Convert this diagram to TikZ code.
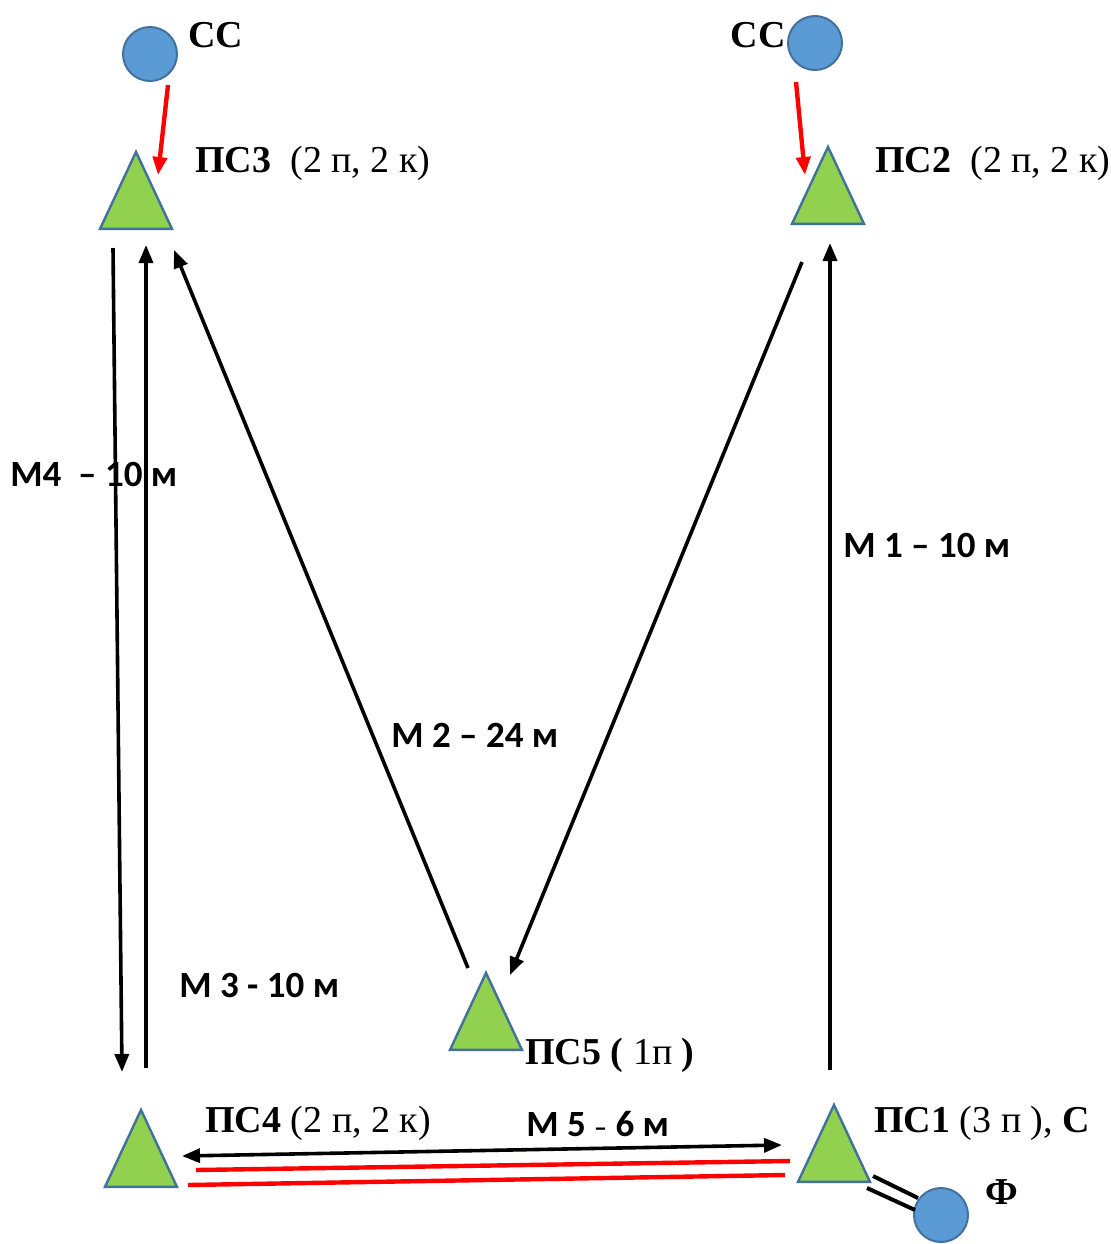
\documentclass[tikz,border=0pt]{standalone}
\usepackage{fontspec}
\setmainfont{Liberation Serif}
\newfontfamily\calib{Carlito}
\usetikzlibrary{shapes.geometric,arrows.meta}

\definecolor{psgreen}{HTML}{92D050}
\definecolor{ccblue}{HTML}{5B9BD5}
\definecolor{rimblue}{HTML}{41719C}

\begin{document}
\begin{tikzpicture}[x=0.5pt,y=-0.5pt]

        \useasboundingbox (0,0) rectangle (1111,1244);

        \begin{scope}[every node/.style={isosceles triangle, shape border rotate=90,
            isosceles triangle stretches, minimum width=36pt, minimum height=38.5pt,
            inner sep=0pt, fill=psgreen, draw=rimblue, line width=1.2pt}]
          \node (ps3) at (136,206)  {};
          \node (ps2) at (828,201)  {};
          \node (ps4) at (141,1164) {};
          \node (ps5) at (486,1027) {};
          \node (ps1) at (834,1159) {};
        \end{scope}

        \begin{scope}[every node/.style={circle, minimum size=27pt, inner sep=0pt,
            fill=ccblue, draw=rimblue, line width=1pt}]
          \node (cc3) at (150,54)   {};
          \node (cc2) at (815,43)   {};
          \node (phi) at (941,1215) {};
        \end{scope}

        \begin{scope}[every node/.style={inner sep=0pt, font=\fontsize{19}{22}\selectfont}]
          \node[anchor=west] (lcc3) at (188,35)   {\textbf{СС}};
          \node[anchor=east] (lcc2) at (786,35)   {\textbf{СС}};
          \node[anchor=west] (lps3) at (195,163)  {\textbf{ПС3}\ \ (2 п, 2 к)};
          \node[anchor=west] (lps2) at (875,163)  {\textbf{ПС2}\ \ (2 п, 2 к)};
          \node[anchor=west] (lps4) at (205,1123) {\textbf{ПС4} (2 п, 2 к)};
          \node[anchor=west] (lps5) at (525,1055) {\textbf{ПС5 (} 1п \textbf{)}};
          \node[anchor=west] (lps1) at (874,1123) {\textbf{ПС1} (3 п ), \textbf{С}};
          \node (lphi) at (1002,1192) {\textbf{Ф}};
        \end{scope}

        \begin{scope}[every node/.style={inner sep=0pt, anchor=west,
            font=\calib\bfseries\fontsize{18.5}{21}\selectfont}]
          \node (lm4) at (10,474)   {М4\ \ – 10 м};
          \node (lm1) at (843,545)  {М 1 – 10 м};
          \node (lm2) at (391,735)  {М 2 – 24 м};
          \node (lm3) at (179,985)  {М 3 - 10 м};
          \node (lm5) at (526,1124) {М 5 {\fontsize{13}{14}\selectfont–} 6 м};
        \end{scope}

        \begin{scope}[every edge/.style={draw, line width=1.8pt, -{Triangle[length=9pt,width=7pt]}}]
          \path ([shift={(-23,42)}]ps3.center) edge ([shift={(-19,-92)}]ps4.center);
          \path ([shift={(5,-96)}]ps4.center)  edge ([shift={(10,39)}]ps3.center);
          \path ([shift={(-18,-59)}]ps5.center) edge ([shift={(38,44)}]ps3.center);
          \path ([shift={(-26,61)}]ps2.center) edge ([shift={(24,-52)}]ps5.center);
          \path ([shift={(-4,-89)}]ps1.center) edge ([shift={(2,42)}]ps2.center);
          \path ([shift={(41,-8)}]ps4.center)  edge[{Triangle[length=9pt,width=7pt]}-{Triangle[length=9pt,width=7pt]}] ([shift={(-52,-14)}]ps1.center);
        \end{scope}

        \begin{scope}[every edge/.style={draw, red, line width=2.2pt}]
          \path ([shift={(18,31)}]cc3.center)  edge[-{Triangle[length=9pt,width=7pt]}] ([shift={(22,-31)}]ps3.center);
          \path ([shift={(-19,39)}]cc2.center) edge[-{Triangle[length=9pt,width=7pt]}] ([shift={(-23,-26)}]ps2.center);
          \path ([shift={(55,6)}]ps4.center)   edge ([shift={(-44,2)}]ps1.center);
          \path ([shift={(47,21)}]ps4.center)  edge ([shift={(-49,16)}]ps1.center);
        \end{scope}

        \begin{scope}[every edge/.style={draw, line width=2pt}]
          \path ([shift={(39,17)}]ps1.center) edge ([shift={(-23,-17)}]phi.center);
          \path ([shift={(33,29)}]ps1.center) edge ([shift={(-26,-5)}]phi.center);
        \end{scope}

      \end{tikzpicture}
\end{document}
